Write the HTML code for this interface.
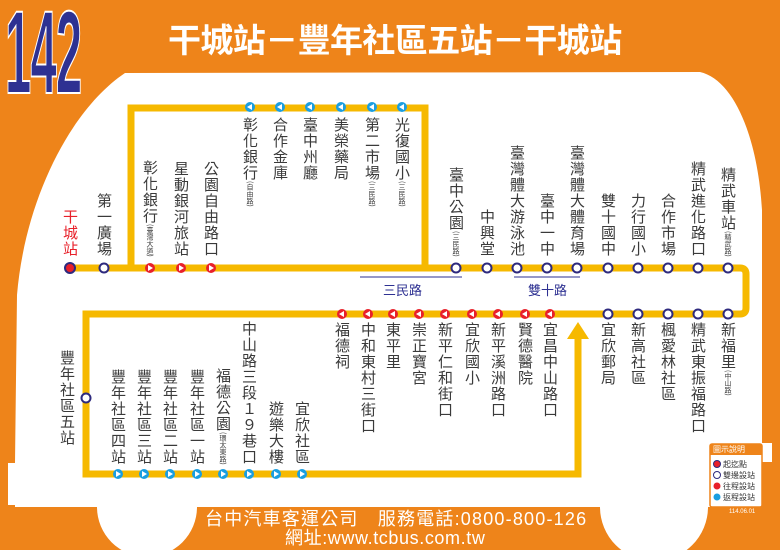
<!DOCTYPE html>
<html><head><meta charset="utf-8">
<style>
body{margin:0;width:780px;height:550px;overflow:hidden;background:#ee841a;font-family:"Liberation Sans","Noto Sans CJK TC",sans-serif;}
#w{position:relative;width:780px;height:550px;}
svg{position:absolute;left:0;top:0}
.v{position:absolute;writing-mode:vertical-rl;font-size:15px;line-height:16px;width:16px;letter-spacing:1px;color:#3a3a3a;font-family:"Noto Sans CJK TC","WenQuanYi Zen Hei",sans-serif;white-space:nowrap}
.v small{font-size:7px;letter-spacing:0;line-height:16px}
.t{position:absolute;white-space:nowrap;font-family:"Liberation Sans","Noto Sans CJK TC",sans-serif}
</style></head><body><div id="w">
<svg width="780" height="550" viewBox="0 0 780 550">
<path d="M17 295 C25 200 70 110 125 73 L700 72 C735 80 758 140 762 210 L762 443 L772 443 L772 462 L762 462 L762 507 L708 507 A54 54 0 0 1 600 507 L197 507 A50 50 0 0 1 97 507 L15 507 L15 505 L8 505 L8 463 L15 463 Z" fill="#fff"/>
<g fill="none" stroke="#f6b900" stroke-width="7">
<path d="M70 268 H740 Q746 268 746 274 V308 Q746 314 740 314 H86 V474 H578 V338"/>
<path d="M131 268 V108 H425 V268"/>
</g>
<polygon points="567,339 589,339 578,322" fill="#f6b900"/>
<g stroke="#2e3192" stroke-width="1"><line x1="360" y1="277" x2="462" y2="277"/><line x1="514" y1="277" x2="580" y2="277"/></g>
<circle cx="70" cy="268" r="5" fill="#e8202a" stroke="#2e2a7e" stroke-width="2"/>
<g fill="#fff" stroke="#2e2a7e" stroke-width="2">
<circle cx="104" cy="268" r="4.5"/>
<circle cx="456" cy="268" r="4.5"/><circle cx="487" cy="268" r="4.5"/><circle cx="517" cy="268" r="4.5"/><circle cx="547" cy="268" r="4.5"/><circle cx="577" cy="268" r="4.5"/><circle cx="608" cy="268" r="4.5"/><circle cx="638" cy="268" r="4.5"/><circle cx="668" cy="268" r="4.5"/><circle cx="698" cy="268" r="4.5"/><circle cx="728" cy="268" r="4.5"/>
<circle cx="608" cy="314" r="4.5"/><circle cx="638" cy="314" r="4.5"/><circle cx="668" cy="314" r="4.5"/><circle cx="698" cy="314" r="4.5"/><circle cx="728" cy="314" r="4.5"/>
<circle cx="86" cy="398" r="4.5"/>
</g>
<g fill="#e8202a">
<circle cx="150" cy="268" r="5"/><circle cx="181" cy="268" r="5"/><circle cx="211" cy="268" r="5"/>
<circle cx="342" cy="314" r="5"/><circle cx="368" cy="314" r="5"/><circle cx="393" cy="314" r="5"/><circle cx="419" cy="314" r="5"/><circle cx="445" cy="314" r="5"/><circle cx="472" cy="314" r="5"/><circle cx="498" cy="314" r="5"/><circle cx="525" cy="314" r="5"/><circle cx="550" cy="314" r="5"/>
</g>
<g fill="#1a9ee0">
<circle cx="250" cy="107" r="5"/><circle cx="280" cy="107" r="5"/><circle cx="310" cy="107" r="5"/><circle cx="341" cy="107" r="5"/><circle cx="372" cy="107" r="5"/><circle cx="402" cy="107" r="5"/>
<circle cx="118" cy="474" r="5"/><circle cx="144" cy="474" r="5"/><circle cx="170" cy="474" r="5"/><circle cx="197" cy="474" r="5"/><circle cx="223" cy="474" r="5"/><circle cx="249" cy="474" r="5"/><circle cx="276" cy="474" r="5"/><circle cx="302" cy="474" r="5"/>
</g>
<g fill="#fff">
<path d="M148 265 l5 3 l-5 3z M179 265 l5 3 l-5 3z M209 265 l5 3 l-5 3z"/>
<path d="M344 311 l-5 3 l5 3z M370 311 l-5 3 l5 3z M395 311 l-5 3 l5 3z M421 311 l-5 3 l5 3z M447 311 l-5 3 l5 3z M474 311 l-5 3 l5 3z M500 311 l-5 3 l5 3z M527 311 l-5 3 l5 3z M552 311 l-5 3 l5 3z"/>
<path d="M252 104 l-5 3 l5 3z M282 104 l-5 3 l5 3z M312 104 l-5 3 l5 3z M343 104 l-5 3 l5 3z M374 104 l-5 3 l5 3z M404 104 l-5 3 l5 3z"/>
<path d="M116 471 l5 3 l-5 3z M142 471 l5 3 l-5 3z M168 471 l5 3 l-5 3z M195 471 l5 3 l-5 3z M221 471 l5 3 l-5 3z M247 471 l5 3 l-5 3z M274 471 l5 3 l-5 3z M300 471 l5 3 l-5 3z"/>
</g>
<rect x="710" y="444" width="52" height="63" rx="2" fill="#fff" stroke="#ee841a" stroke-width="1.5"/>
<rect x="710" y="444" width="52" height="11" fill="#ee841a"/>
<circle cx="717" cy="464" r="3.5" fill="#e8202a" stroke="#2e2a7e"/>
<circle cx="717" cy="475" r="3.5" fill="#fff" stroke="#2e2a7e"/>
<circle cx="717" cy="486" r="3.5" fill="#e8202a"/>
<circle cx="717" cy="497" r="3.5" fill="#1a9ee0"/>
</svg>
<div class="t" style="left:5px;top:-6px;font-size:118px;font-weight:bold;color:#2e3192;-webkit-text-stroke:2px #fff;transform:scaleX(0.40);transform-origin:0 0;letter-spacing:-2px;line-height:118px">142</div>
<div class="t" style="left:168px;top:15px;font-size:33px;font-weight:bold;color:#fff;font-family:'Noto Sans CJK TC',sans-serif;line-height:46px;letter-spacing:-0.6px">干城站－豐年社區五站－干城站</div>
<div class="t" style="left:205px;top:508px;font-size:18px;color:#fff;font-family:'Liberation Sans','Noto Sans CJK TC',sans-serif;line-height:22px;letter-spacing:1.2px">台中汽車客運公司　服務電話:0800-800-126</div>
<div class="t" style="left:285px;top:527px;font-size:18px;color:#fff;font-family:'Liberation Sans','Noto Sans CJK TC',sans-serif;line-height:22px;letter-spacing:0.6px">網址:www.tcbus.com.tw</div>
<div class="t" style="left:713px;top:444px;font-size:8px;color:#fff;line-height:11px">圖示說明</div>
<div class="t" style="left:723px;top:459px;font-size:8px;color:#333;line-height:11px">起迄點<br>雙邊設站<br>往程設站<br>返程設站</div>
<div class="t" style="left:729px;top:509px;font-size:6px;color:#fff">114.06.01</div>
<div class="t" style="left:383px;top:280px;font-size:13px;color:#2e3192;font-family:'Noto Sans CJK TC',sans-serif">三民路</div>
<div class="t" style="left:528px;top:280px;font-size:13px;color:#2e3192;font-family:'Noto Sans CJK TC',sans-serif">雙十路</div>

<div class="v" style="left:62px;bottom:293px;color:#e8202a">干城站</div>
<div class="v" style="left:96px;bottom:293px">第一廣場</div>
<div class="v" style="left:142px;bottom:293px">彰化銀行<small>(臺灣大道)</small></div>
<div class="v" style="left:173px;bottom:293px">星動銀河旅站</div>
<div class="v" style="left:203px;bottom:293px">公園自由路口</div>

<div class="v" style="left:242px;top:117px">彰化銀行<small>(自由路)</small></div>
<div class="v" style="left:272px;top:117px">合作金庫</div>
<div class="v" style="left:302px;top:117px">臺中州廳</div>
<div class="v" style="left:333px;top:117px">美榮藥局</div>
<div class="v" style="left:364px;top:117px">第二市場<small>(三民路)</small></div>
<div class="v" style="left:394px;top:117px">光復國小<small>(三民路)</small></div>

<div class="v" style="left:448px;bottom:293px">臺中公園<small>(三民路)</small></div>
<div class="v" style="left:479px;bottom:293px">中興堂</div>
<div class="v" style="left:509px;bottom:293px">臺灣體大游泳池</div>
<div class="v" style="left:539px;bottom:293px">臺中一中</div>
<div class="v" style="left:569px;bottom:293px">臺灣體大體育場</div>
<div class="v" style="left:600px;bottom:293px">雙十國中</div>
<div class="v" style="left:630px;bottom:293px">力行國小</div>
<div class="v" style="left:660px;bottom:293px">合作市場</div>
<div class="v" style="left:690px;bottom:293px">精武進化路口</div>
<div class="v" style="left:720px;bottom:293px">精武車站<small>(精武路)</small></div>

<div class="v" style="left:334px;top:322px">福德祠</div>
<div class="v" style="left:360px;top:322px">中和東村三街口</div>
<div class="v" style="left:385px;top:322px">東平里</div>
<div class="v" style="left:411px;top:322px">崇正寶宮</div>
<div class="v" style="left:437px;top:322px">新平仁和街口</div>
<div class="v" style="left:464px;top:322px">宜欣國小</div>
<div class="v" style="left:490px;top:322px">新平溪洲路口</div>
<div class="v" style="left:517px;top:322px">賢德醫院</div>
<div class="v" style="left:542px;top:322px">宜昌中山路口</div>
<div class="v" style="left:600px;top:322px">宜欣郵局</div>
<div class="v" style="left:630px;top:322px">新高社區</div>
<div class="v" style="left:660px;top:322px">楓愛林社區</div>
<div class="v" style="left:690px;top:322px">精武東振福路口</div>
<div class="v" style="left:720px;top:322px">新福里<small>(中山路)</small></div>

<div class="v" style="left:59px;top:350px">豐年社區五站</div>

<div class="v" style="left:110px;bottom:85px">豐年社區四站</div>
<div class="v" style="left:136px;bottom:85px">豐年社區三站</div>
<div class="v" style="left:162px;bottom:85px">豐年社區二站</div>
<div class="v" style="left:189px;bottom:85px">豐年社區一站</div>
<div class="v" style="left:215px;bottom:85px">福德公園<small>(環太東路)</small></div>
<div class="v" style="left:241px;bottom:85px">中山路三段１９巷口</div>
<div class="v" style="left:268px;bottom:85px">遊樂大樓</div>
<div class="v" style="left:294px;bottom:85px">宜欣社區</div>
</div></body></html>
